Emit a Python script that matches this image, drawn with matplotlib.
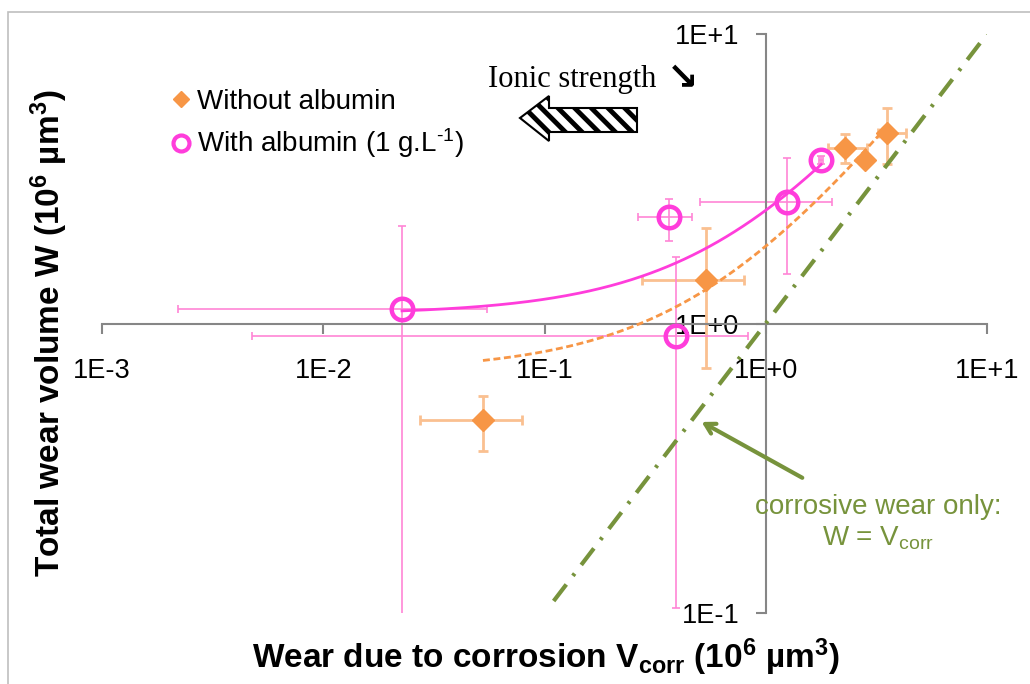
import numpy as np
import matplotlib
matplotlib.use('Agg')
import matplotlib.pyplot as plt
from matplotlib.lines import Line2D
from matplotlib.patches import Polygon, Rectangle
from matplotlib.ticker import FixedLocator, FuncFormatter, NullLocator

plt.rcParams['font.family'] = ['Liberation Sans', 'DejaVu Sans']
plt.rcParams['mathtext.default'] = 'regular'
plt.rcParams['hatch.linewidth'] = 3.5

# data (10^6 um^3)
# without albumin
no_alb_x = [0.0527, 0.537, 2.27, 2.82, 3.52]
no_alb_y = [0.464, 1.41, 4.04, 3.67, 4.56]
no_alb_x_lo = [0.0274, 0.276, 1.91, 2.82, 3.21]
no_alb_x_hi = [0.0791, 0.798, 2.87, 2.82, 4.30]
no_alb_y_lo = [0.363, 0.702, 3.58, 3.67, 3.56]
no_alb_y_hi = [0.562, 2.14, 4.52, 3.67, 5.55]

# with albumin (1 g/L)
alb_x = [0.0227, 0.366, 0.393, 1.25, 1.78]
alb_y = [1.12, 2.33, 0.906, 2.63, 3.67]
alb_x_lo = [0.0022, 0.265, 0.00477, 0.505, 1.74]
alb_x_hi = [0.055, 0.464, 0.832, 1.995, 1.82]
alb_y_lo = [0.05, 1.93, 0.104, 1.48, 3.55]
alb_y_hi = [2.17, 2.69, 1.70, 3.73, 3.80]

# W = Vcorr reference line
parity = [0.11, 10]

x_ticks = [1e-3, 1e-2, 1e-1, 1, 10]
y_ticks = [1e-1, 1, 10]

orange = '#F79646'
orange_err = '#FAC090'
magenta = '#FF3DDB'
magenta_err = '#FF85D6'
green = '#77933C'
grey = '#868686'

fig = plt.figure(figsize=(10.3, 6.84), dpi=100)
ax = fig.add_axes([102/1030, 1 - 613/684, 885/1030, 579/684])
ax.set_xscale('log')
ax.set_yscale('log')
ax.set_xlim(1e-3, 10)
ax.set_ylim(0.1, 10)

# outer chart frame
fig.patches.append(Rectangle((8/1030, -0.1), 1.2, 1.1 - 12/684, transform=fig.transFigure,
                             fill=False, edgecolor='#BFBFBF', lw=1.2))


def errs(v, lo, hi):
    v, lo, hi = map(np.asarray, (v, lo, hi))
    return [v - lo, hi - v]


ax.errorbar(no_alb_x, no_alb_y, xerr=errs(no_alb_x, no_alb_x_lo, no_alb_x_hi),
            yerr=errs(no_alb_y, no_alb_y_lo, no_alb_y_hi), fmt='none',
            ecolor=orange_err, elinewidth=2, capsize=3.5, capthick=2, zorder=2)
ax.errorbar(alb_x, alb_y, xerr=errs(alb_x, alb_x_lo, alb_x_hi),
            yerr=errs(alb_y, alb_y_lo, alb_y_hi), fmt='none',
            ecolor=magenta_err, elinewidth=1.2, capsize=3, capthick=1.2, zorder=2)

# linear trendlines (shown on log axes)
a1, b1 = np.polyfit(no_alb_x, no_alb_y, 1)
xs1 = np.logspace(np.log10(min(no_alb_x)), np.log10(max(no_alb_x)), 200)
ax.plot(xs1, a1 * xs1 + b1, color=orange, lw=2, dashes=(2.5, 1.3), zorder=3)
a2, b2 = np.polyfit(alb_x, alb_y, 1)
xs2 = np.logspace(np.log10(min(alb_x)), np.log10(max(alb_x)), 200)
ax.plot(xs2, a2 * xs2 + b2, color=magenta, lw=2, zorder=3)

ax.plot(parity, parity, color=green, lw=3, dashes=(5, 2.6, 0.7, 2.6), zorder=3)

ax.plot(no_alb_x, no_alb_y, ls='none', marker='D', ms=11, color=orange, mec=orange, zorder=4)
ax.plot(alb_x, alb_y, ls='none', marker='o', ms=15.5, mfc='none', mec=magenta, mew=3.2, zorder=4)

# axes crossing at 1
for s in ['top', 'right']:
    ax.spines[s].set_visible(False)
ax.spines['left'].set_position(('data', 1))
ax.spines['bottom'].set_position(('data', 1))
for s in ['left', 'bottom']:
    ax.spines[s].set_color(grey)
    ax.spines[s].set_linewidth(1.5)
ax.xaxis.set_major_locator(FixedLocator(x_ticks))
ax.yaxis.set_major_locator(FixedLocator(y_ticks))
ax.xaxis.set_minor_locator(NullLocator())
ax.yaxis.set_minor_locator(NullLocator())
fmt = FuncFormatter(lambda v, p: '1E%+d' % int(round(np.log10(v))))
ax.xaxis.set_major_formatter(fmt)
ax.yaxis.set_major_formatter(fmt)
ax.tick_params(direction='out', length=7, width=1.5, color=grey, labelsize=19.5)
ax.tick_params(axis='x', pad=18)
ax.tick_params(axis='y', pad=12)

ax.set_xlabel('Wear due to corrosion V$_{corr}$ (10$^6$ µm$^3$)', fontsize=24, fontweight='bold')
ax.set_ylabel('Total wear volume W (10$^6$ µm$^3$)', fontsize=24, fontweight='bold')
ax.xaxis.set_label_coords(0.502, -0.040)
ax.yaxis.set_label_coords(-0.036, 0.483)

# legend
handles = [Line2D([], [], ls='none', marker='D', ms=8.5, color=orange),
           Line2D([], [], ls='none', marker='o', ms=11.5, mfc='none', mec=magenta, mew=3)]
ax.legend(handles, ['Without albumin', 'With albumin (1 g.L$^{\u20101}$)'], loc='upper left',
          bbox_to_anchor=(173/1030, 1 - 89/684), bbox_transform=fig.transFigure,
          frameon=False, fontsize=20, handlelength=0.6, handletextpad=0.25,
          borderpad=0, borderaxespad=0, labelspacing=0.42)

# ionic strength arrow
fig.text(488/1030, 1 - 80/684, 'Ionic strength', fontsize=22, va='center', ha='left',
         family='Liberation Serif')
fig.text(667/1030, 1 - 79/684, '↘', fontsize=27, va='center', ha='left',
         family='DejaVu Sans', fontweight='bold')
arrow_px = [(520, 118), (549, 96), (549, 108), (637, 108), (637, 132), (549, 132), (549, 141)]
fig.patches.append(Polygon([(px / 1030, 1 - py / 684) for px, py in arrow_px], closed=True,
                           transform=fig.transFigure, facecolor='white', edgecolor='black',
                           lw=1.5, hatch='\\\\'))

# corrosive wear annotation
ax.annotate('', xy=(0.5, 0.462), xytext=(1.5, 0.29),
            arrowprops=dict(arrowstyle='->, head_length=0.7, head_width=0.4', color=green, lw=3))
ax.text(3.21, 0.232, 'corrosive wear only:', color=green, fontsize=20, ha='center', va='center')
ax.text(3.21, 0.1815, 'W = V$_{corr}$', color=green, fontsize=20, ha='center', va='center')

fig.savefig('out.png', dpi=100)
